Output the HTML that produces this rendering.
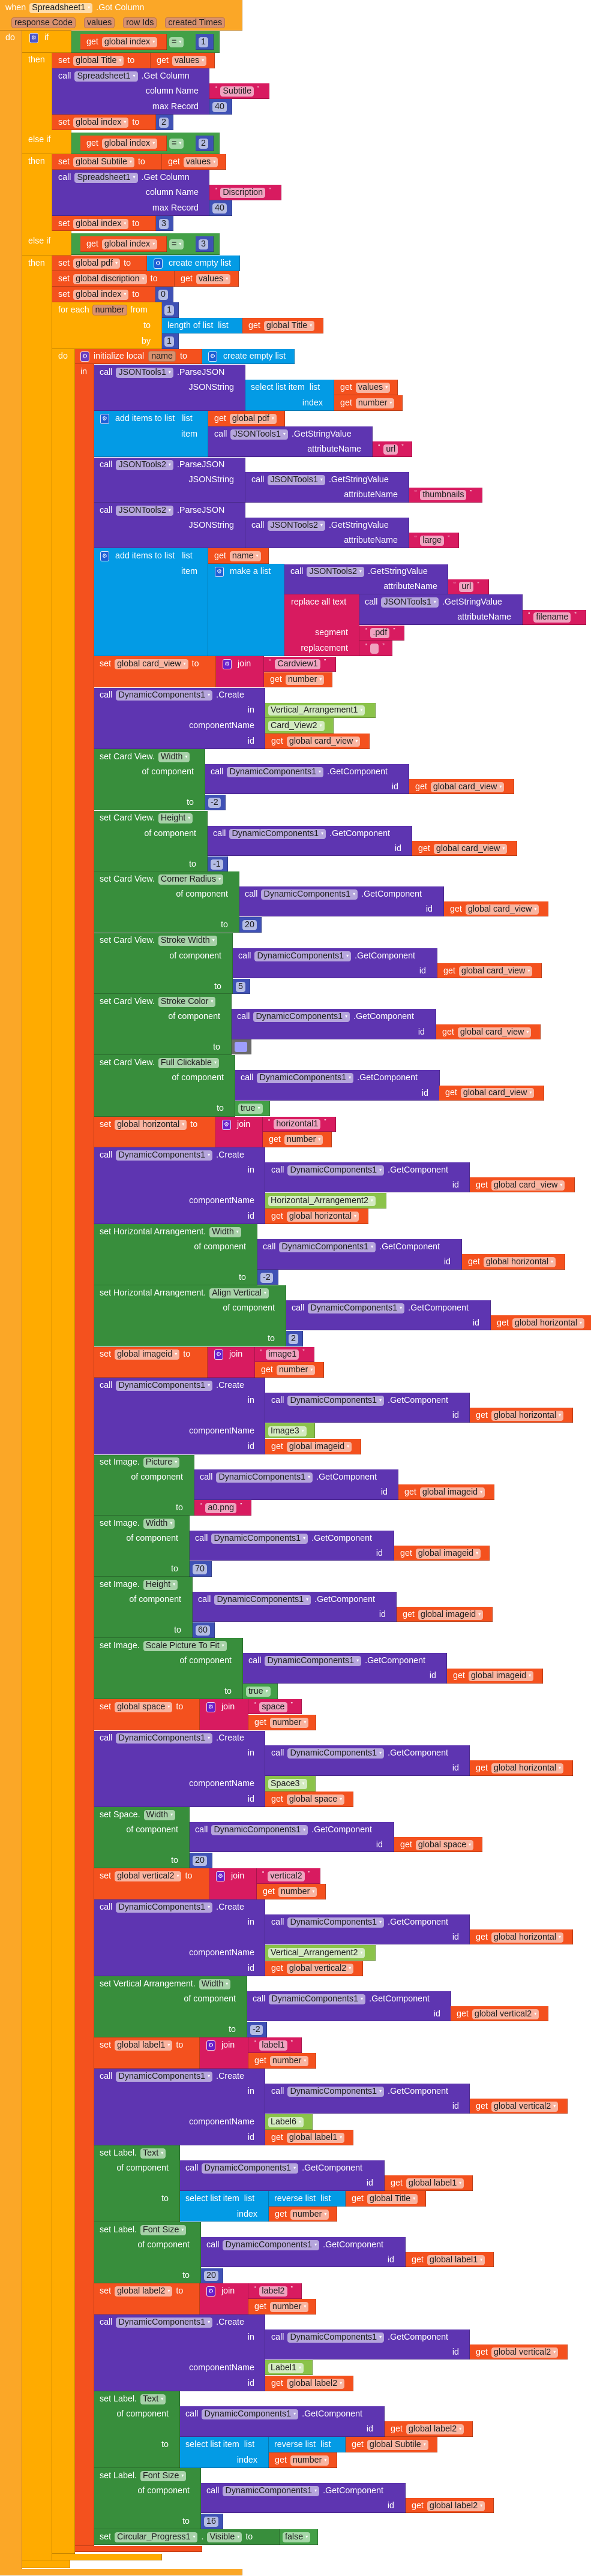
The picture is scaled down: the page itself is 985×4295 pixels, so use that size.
<!DOCTYPE html>
<html><head><meta charset="utf-8">
<style>
*{margin:0;padding:0;box-sizing:border-box}
body{width:985px;height:4295px;position:relative;overflow:hidden;background:#fff;font-family:"Liberation Sans",Arial,sans-serif}
.b{position:absolute;box-shadow:inset 0 -1px 0 rgba(0,0,0,.22),inset -1px 0 0 rgba(0,0,0,.22)}
.ev{background:#FBA727}.ct{background:#FFAB00}.vr{background:#F4511E}.pu{background:#5E35B1}.gr{background:#388E3C}.lg{background:#43A047}.nu{background:#3F51B5}.tx{background:#D81B60}.li{background:#039BE5}.cp{background:#8BC34A}.co{background:#6B6B6B}
.r{position:absolute;height:26px;display:flex;align-items:center;gap:5px;white-space:nowrap;color:#fff;font-size:14.3px;line-height:17px}
.e{justify-content:flex-end;left:0}
.f{display:inline-block;height:17px;line-height:17px;padding:0 4px;border-radius:4px;color:#1e1e1e;margin:0 1px}
.f i{font-style:normal;font-size:8px;color:#fff;margin-left:4px;position:relative;top:-2px;font-family:"DejaVu Sans",sans-serif}
.fv{background:#F9B4A0}.fp{background:#B5A5DC}.fg{background:#A7D1A8}.fn{background:#B4BCE4}.ft{background:#F0A3C0}.fc{background:#D3EAC0}.fl{background:#A6D8A8}.fe{background:#FFDCA9}
.pa{display:inline-block;height:18px;line-height:16px;padding:0 4px;border-radius:4px;color:#1e1e1e;background:#D9916D;border:1px solid #BE7654}
.q{font-size:10px;position:relative;top:-4px}
.g{display:inline-block;width:15px;height:17px;border-radius:3px;border:1px solid rgba(255,255,255,.85);color:#fff;font-size:10px;line-height:15px;text-align:center;font-family:"DejaVu Sans",sans-serif}
.gl{background:#1D5FD6}.gt{background:#6A1FC9}.gi{background:#4B56C8}.gp{background:#6B3FC2}
</style></head><body>

<!-- EVENT -->
<div class="b ev" style="left:0;top:0;width:404px;height:51px"></div>
<div class="b ev" style="left:0;top:51px;width:37px;height:4233px"></div>
<div class="b ev" style="left:0;top:4283px;width:404px;height:11px"></div>
<div class="r" style="left:9px;top:0">when <span class="f fe">Spreadsheet1<i>▾</i></span> .Got Column</div>
<div class="r" style="left:19px;top:25px;gap:14px"><span class="pa">response Code</span><span class="pa">values</span><span class="pa">row Ids</span><span class="pa">created Times</span></div>
<div class="r" style="left:9px;top:50px">do</div>

<!-- IF -->
<div class="b ct" style="left:37px;top:51px;width:50px;height:4218px"></div>
<div class="b ct" style="left:37px;top:51px;width:82px;height:37px"></div>
<div class="b ct" style="left:37px;top:217px;width:82px;height:40px"></div>
<div class="b ct" style="left:37px;top:385px;width:82px;height:41px"></div>
<div class="b ct" style="left:37px;top:4269px;width:80px;height:13px"></div>
<div class="r" style="left:49px;top:50px;gap:10px"><span class="g gi">⚙</span> if</div>
<div class="r" style="left:47px;top:87px">then</div>
<div class="r" style="left:47px;top:220px">else if</div>
<div class="r" style="left:47px;top:256px">then</div>
<div class="r" style="left:47px;top:389px">else if</div>
<div class="r" style="left:47px;top:426px">then</div>

<!-- compare 1 -->
<div class="b lg" style="left:119px;top:52px;width:247px;height:36px"></div>
<div class="b vr" style="left:134px;top:57px;width:144px;height:26px"></div>
<div class="r" style="left:144px;top:57px">get <span class="f fv">global index<i>▾</i></span></div>
<div class="r" style="left:281px;top:57px"><span class="f fl">=<i>▾</i></span></div>
<div class="b nu" style="left:326px;top:57px;width:30px;height:26px"></div>
<div class="r" style="left:330px;top:57px"><span class="f fn">1</span></div>
<!-- compare 2 -->
<div class="b lg" style="left:119px;top:221px;width:247px;height:36px"></div>
<div class="b vr" style="left:134px;top:226px;width:144px;height:26px"></div>
<div class="r" style="left:144px;top:226px">get <span class="f fv">global index<i>▾</i></span></div>
<div class="r" style="left:281px;top:226px"><span class="f fl">=<i>▾</i></span></div>
<div class="b nu" style="left:326px;top:226px;width:30px;height:26px"></div>
<div class="r" style="left:330px;top:226px"><span class="f fn">2</span></div>
<!-- compare 3 -->
<div class="b lg" style="left:119px;top:389px;width:247px;height:36px"></div>
<div class="b vr" style="left:134px;top:394px;width:144px;height:26px"></div>
<div class="r" style="left:144px;top:394px">get <span class="f fv">global index<i>▾</i></span></div>
<div class="r" style="left:281px;top:394px"><span class="f fl">=<i>▾</i></span></div>
<div class="b nu" style="left:326px;top:394px;width:30px;height:26px"></div>
<div class="r" style="left:330px;top:394px"><span class="f fn">3</span></div>

<!-- then 1 -->
<div class="b vr" style="left:87px;top:88px;width:164px;height:26px"></div>
<div class="r" style="left:97px;top:88px">set <span class="f fv">global Title<i>▾</i></span> to</div>
<div class="b vr" style="left:251px;top:88px;width:107px;height:26px"></div>
<div class="r" style="left:261px;top:88px">get <span class="f fv">values<i>▾</i></span></div>
<div class="b pu" style="left:87px;top:114px;width:262px;height:77px"></div>
<div class="r" style="left:97px;top:114px">call <span class="f fp">Spreadsheet1<i>▾</i></span> .Get Column</div>
<div class="r e" style="width:331px;top:139px">column Name</div>
<div class="r e" style="width:331px;top:165px">max Record</div>
<div class="b tx" style="left:349px;top:139px;width:100px;height:26px"></div>
<div class="r" style="left:358px;top:139px"><span class="q">“</span><span class="f ft">Subtitle</span><span class="q">”</span></div>
<div class="b nu" style="left:349px;top:165px;width:38px;height:26px"></div>
<div class="r" style="left:353px;top:165px"><span class="f fn">40</span></div>
<div class="b vr" style="left:87px;top:191px;width:173px;height:26px"></div>
<div class="r" style="left:97px;top:191px">set <span class="f fv">global index<i>▾</i></span> to</div>
<div class="b nu" style="left:260px;top:191px;width:29px;height:26px"></div>
<div class="r" style="left:264px;top:191px"><span class="f fn">2</span></div>

<!-- then 2 -->
<div class="b vr" style="left:87px;top:257px;width:183px;height:26px"></div>
<div class="r" style="left:97px;top:257px">set <span class="f fv">global Subtile<i>▾</i></span> to</div>
<div class="b vr" style="left:270px;top:257px;width:107px;height:26px"></div>
<div class="r" style="left:280px;top:257px">get <span class="f fv">values<i>▾</i></span></div>
<div class="b pu" style="left:87px;top:283px;width:262px;height:77px"></div>
<div class="r" style="left:97px;top:283px">call <span class="f fp">Spreadsheet1<i>▾</i></span> .Get Column</div>
<div class="r e" style="width:331px;top:308px">column Name</div>
<div class="r e" style="width:331px;top:334px">max Record</div>
<div class="b tx" style="left:349px;top:308px;width:120px;height:26px"></div>
<div class="r" style="left:358px;top:308px"><span class="q">“</span><span class="f ft">Discription</span><span class="q">”</span></div>
<div class="b nu" style="left:349px;top:334px;width:38px;height:26px"></div>
<div class="r" style="left:353px;top:334px"><span class="f fn">40</span></div>
<div class="b vr" style="left:87px;top:360px;width:173px;height:25px"></div>
<div class="r" style="left:97px;top:360px">set <span class="f fv">global index<i>▾</i></span> to</div>
<div class="b nu" style="left:260px;top:360px;width:29px;height:25px"></div>
<div class="r" style="left:264px;top:360px"><span class="f fn">3</span></div>

<!-- then 3 -->
<div class="b vr" style="left:87px;top:426px;width:158px;height:26px"></div>
<div class="r" style="left:97px;top:426px">set <span class="f fv">global pdf<i>▾</i></span> to</div>
<div class="b li" style="left:245px;top:426px;width:155px;height:26px"></div>
<div class="r" style="left:256px;top:426px;gap:10px"><span class="g gl">⚙</span>create empty list</div>
<div class="b vr" style="left:87px;top:452px;width:204px;height:26px"></div>
<div class="r" style="left:97px;top:452px">set <span class="f fv">global discription<i>▾</i></span> to</div>
<div class="b vr" style="left:291px;top:452px;width:107px;height:26px"></div>
<div class="r" style="left:301px;top:452px">get <span class="f fv">values<i>▾</i></span></div>
<div class="b vr" style="left:87px;top:478px;width:172px;height:26px"></div>
<div class="r" style="left:97px;top:478px">set <span class="f fv">global index<i>▾</i></span> to</div>
<div class="b nu" style="left:259px;top:478px;width:30px;height:26px"></div>
<div class="r" style="left:263px;top:478px"><span class="f fn">0</span></div>

<!-- FOR EACH -->
<div class="b ct" style="left:87px;top:504px;width:183px;height:78px"></div>
<div class="b ct" style="left:87px;top:582px;width:38px;height:3676px"></div>
<div class="b ct" style="left:87px;top:4258px;width:183px;height:11px"></div>
<div class="r" style="left:97px;top:504px">for each <span class="pa">number</span> from</div>
<div class="r e" style="width:251px;top:530px">to</div>
<div class="r e" style="width:251px;top:556px">by</div>
<div class="r" style="left:97px;top:581px">do</div>
<div class="b nu" style="left:270px;top:504px;width:28px;height:26px"></div>
<div class="r" style="left:273px;top:504px"><span class="f fn">1</span></div>
<div class="b li" style="left:270px;top:530px;width:134px;height:26px"></div>
<div class="r" style="left:279px;top:530px">length of list&nbsp;&nbsp;list</div>
<div class="b vr" style="left:404px;top:530px;width:135px;height:26px"></div>
<div class="r" style="left:414px;top:530px">get <span class="f fv">global Title<i>▾</i></span></div>
<div class="b nu" style="left:270px;top:556px;width:28px;height:26px"></div>
<div class="r" style="left:273px;top:556px"><span class="f fn">1</span></div>

<!-- INIT LOCAL -->
<div class="b vr" style="left:125px;top:582px;width:212px;height:25px"></div>
<div class="b vr" style="left:125px;top:607px;width:32px;height:3638px"></div>
<div class="b vr" style="left:125px;top:4245px;width:212px;height:10px"></div>
<div class="r" style="left:134px;top:581px;gap:7px"><span class="g gp">⚙</span>initialize local <span class="pa">name</span> to</div>
<div class="b li" style="left:337px;top:582px;width:154px;height:25px"></div>
<div class="r" style="left:347px;top:581px;gap:10px"><span class="g gl">⚙</span>create empty list</div>
<div class="r" style="left:134px;top:607px">in</div>

<!-- ParseJSON 1 -->
<div class="b pu" style="left:157px;top:608px;width:252px;height:77px"></div>
<div class="r" style="left:166px;top:608px">call <span class="f fp">JSONTools1<i>▾</i></span> .ParseJSON</div>
<div class="r e" style="width:390px;top:633px">JSONString</div>
<div class="b li" style="left:409px;top:633px;width:148px;height:52px"></div>
<div class="r" style="left:418px;top:633px">select list item&nbsp;&nbsp;list</div>
<div class="r e" style="width:538px;top:659px">index</div>
<div class="b vr" style="left:557px;top:633px;width:106px;height:26px"></div>
<div class="r" style="left:567px;top:633px">get <span class="f fv">values<i>▾</i></span></div>
<div class="b vr" style="left:557px;top:659px;width:114px;height:26px"></div>
<div class="r" style="left:567px;top:659px">get <span class="f fv">number<i>▾</i></span></div>

<!-- add items 1 -->
<div class="b li" style="left:157px;top:685px;width:190px;height:77px"></div>
<div class="r" style="left:167px;top:685px;gap:10px"><span class="g gl">⚙</span>add items to list&nbsp;&nbsp;&nbsp;list</div>
<div class="r e" style="width:329px;top:711px">item</div>
<div class="b vr" style="left:347px;top:685px;width:128px;height:26px"></div>
<div class="r" style="left:357px;top:685px">get <span class="f fv">global pdf<i>▾</i></span></div>
<div class="b pu" style="left:347px;top:711px;width:274px;height:51px"></div>
<div class="r" style="left:357px;top:711px">call <span class="f fp">JSONTools1<i>▾</i></span> .GetStringValue</div>
<div class="r e" style="width:602px;top:736px">attributeName</div>
<div class="b tx" style="left:621px;top:736px;width:66px;height:26px"></div>
<div class="r" style="left:630px;top:736px"><span class="q">“</span><span class="f ft">url</span><span class="q">”</span></div>

<!-- ParseJSON 2 -->
<div class="b pu" style="left:157px;top:763px;width:252px;height:75px"></div>
<div class="r" style="left:166px;top:762px">call <span class="f fp">JSONTools2<i>▾</i></span> .ParseJSON</div>
<div class="r e" style="width:390px;top:787px">JSONString</div>
<div class="b pu" style="left:409px;top:787px;width:273px;height:51px"></div>
<div class="r" style="left:419px;top:787px">call <span class="f fp">JSONTools1<i>▾</i></span> .GetStringValue</div>
<div class="r e" style="width:663px;top:812px">attributeName</div>
<div class="b tx" style="left:682px;top:813px;width:122px;height:25px"></div>
<div class="r" style="left:691px;top:812px"><span class="q">“</span><span class="f ft">thumbnails</span><span class="q">”</span></div>

<!-- ParseJSON 3 -->
<div class="b pu" style="left:157px;top:838px;width:252px;height:76px"></div>
<div class="r" style="left:166px;top:838px">call <span class="f fp">JSONTools2<i>▾</i></span> .ParseJSON</div>
<div class="r e" style="width:390px;top:863px">JSONString</div>
<div class="b pu" style="left:409px;top:863px;width:273px;height:51px"></div>
<div class="r" style="left:419px;top:863px">call <span class="f fp">JSONTools2<i>▾</i></span> .GetStringValue</div>
<div class="r e" style="width:663px;top:888px">attributeName</div>
<div class="b tx" style="left:682px;top:888px;width:83px;height:26px"></div>
<div class="r" style="left:691px;top:888px"><span class="q">“</span><span class="f ft">large</span><span class="q">”</span></div>

<!-- add items 2 -->
<div class="b li" style="left:157px;top:914px;width:190px;height:180px"></div>
<div class="r" style="left:167px;top:914px;gap:10px"><span class="g gl">⚙</span>add items to list&nbsp;&nbsp;&nbsp;list</div>
<div class="r e" style="width:329px;top:940px">item</div>
<div class="b vr" style="left:347px;top:914px;width:101px;height:26px"></div>
<div class="r" style="left:357px;top:914px">get <span class="f fv">name<i>▾</i></span></div>
<div class="b li" style="left:347px;top:940px;width:127px;height:154px"></div>
<div class="r" style="left:358px;top:940px;gap:10px"><span class="g gl">⚙</span>make a list</div>
<div class="b pu" style="left:474px;top:941px;width:273px;height:50px"></div>
<div class="r" style="left:484px;top:940px">call <span class="f fp">JSONTools2<i>▾</i></span> .GetStringValue</div>
<div class="r e" style="width:729px;top:965px">attributeName</div>
<div class="b tx" style="left:747px;top:966px;width:68px;height:25px"></div>
<div class="r" style="left:756px;top:965px"><span class="q">“</span><span class="f ft">url</span><span class="q">”</span></div>
<div class="b tx" style="left:474px;top:991px;width:125px;height:103px"></div>
<div class="r" style="left:485px;top:991px">replace all text</div>
<div class="r e" style="width:580px;top:1042px">segment</div>
<div class="r e" style="width:580px;top:1068px">replacement</div>
<div class="b pu" style="left:599px;top:991px;width:272px;height:51px"></div>
<div class="r" style="left:608px;top:991px">call <span class="f fp">JSONTools1<i>▾</i></span> .GetStringValue</div>
<div class="r e" style="width:852px;top:1016px">attributeName</div>
<div class="b tx" style="left:871px;top:1017px;width:106px;height:25px"></div>
<div class="r" style="left:880px;top:1016px"><span class="q">“</span><span class="f ft">filename</span><span class="q">”</span></div>
<div class="b tx" style="left:599px;top:1043px;width:75px;height:25px"></div>
<div class="r" style="left:608px;top:1042px"><span class="q">“</span><span class="f ft">.pdf</span><span class="q">”</span></div>
<div class="b tx" style="left:599px;top:1068px;width:55px;height:26px"></div>
<div class="r" style="left:608px;top:1068px"><span class="q">“</span><span class="f ft" style="width:14px"></span><span class="q">”</span></div>

<!-- J1 card_view -->
<div class="b vr" style="left:157px;top:1094px;width:203px;height:52px"></div>
<div class="r" style="left:166px;top:1094px">set <span class="f fv">global card_view<i>▾</i></span> to</div>
<div class="b tx" style="left:360px;top:1094px;width:80px;height:52px"></div>
<div class="r" style="left:371px;top:1094px;gap:10px"><span class="g gt">⚙</span>join</div>
<div class="b tx" style="left:440px;top:1095px;width:120px;height:25px"></div>
<div class="r" style="left:449px;top:1094px"><span class="q">“</span><span class="f ft">Cardview1</span><span class="q">”</span></div>
<div class="b vr" style="left:440px;top:1121px;width:114px;height:25px"></div>
<div class="r" style="left:450px;top:1120px">get <span class="f fv">number<i>▾</i></span></div>

<!-- Create 0 -->
<div class="b pu" style="left:157px;top:1147px;width:285px;height:102px"></div>
<div class="r" style="left:166px;top:1146px">call <span class="f fp">DynamicComponents1<i>▾</i></span> .Create</div>
<div class="r e" style="width:424px;top:1171px">in</div>
<div class="r e" style="width:424px;top:1197px">componentName</div>
<div class="r e" style="width:424px;top:1223px">id</div>
<div class="b cp" style="left:442px;top:1172px;width:184px;height:25px"></div>
<div class="r" style="left:446px;top:1171px"><span class="f fc">Vertical_Arrangement1<i>▾</i></span></div>
<div class="b cp" style="left:442px;top:1197px;width:114px;height:26px"></div>
<div class="r" style="left:446px;top:1197px"><span class="f fc">Card_View2<i>▾</i></span></div>
<div class="b vr" style="left:442px;top:1223px;width:174px;height:26px"></div>
<div class="r" style="left:452px;top:1223px">get <span class="f fv">global card_view<i>▾</i></span></div>

<!-- Setter a -->
<div class="b gr" style="left:157px;top:1249px;width:185px;height:102px"></div>
<div class="r" style="left:166px;top:1249px">set Card View. <span class="f fg">Width<i>▾</i></span></div>
<div class="r e" style="width:323px;top:1274px">of component</div>
<div class="r e" style="width:323px;top:1325px">to</div>
<div class="b pu" style="left:342px;top:1274px;width:340px;height:50px"></div>
<div class="r" style="left:351px;top:1274px">call <span class="f fp">DynamicComponents1<i>▾</i></span> .GetComponent</div>
<div class="r e" style="width:664px;top:1299px">id</div>
<div class="b vr" style="left:682px;top:1299px;width:175px;height:25px"></div>
<div class="r" style="left:692px;top:1299px">get <span class="f fv">global card_view<i>▾</i></span></div>
<div class="b nu" style="left:342px;top:1325px;width:34px;height:26px"></div>
<div class="r" style="left:346px;top:1325px"><span class="f fn">-2</span></div>

<!-- Setter b -->
<div class="b gr" style="left:157px;top:1352px;width:189px;height:101px"></div>
<div class="r" style="left:166px;top:1351px">set Card View. <span class="f fg">Height<i>▾</i></span></div>
<div class="r e" style="width:327px;top:1377px">of component</div>
<div class="r e" style="width:327px;top:1428px">to</div>
<div class="b pu" style="left:346px;top:1377px;width:341px;height:50px"></div>
<div class="r" style="left:355px;top:1377px">call <span class="f fp">DynamicComponents1<i>▾</i></span> .GetComponent</div>
<div class="r e" style="width:669px;top:1402px">id</div>
<div class="b vr" style="left:687px;top:1402px;width:175px;height:25px"></div>
<div class="r" style="left:697px;top:1402px">get <span class="f fv">global card_view<i>▾</i></span></div>
<div class="b nu" style="left:346px;top:1428px;width:34px;height:25px"></div>
<div class="r" style="left:350px;top:1428px"><span class="f fn">-1</span></div>

<!-- Setter c -->
<div class="b gr" style="left:157px;top:1453px;width:242px;height:102px"></div>
<div class="r" style="left:166px;top:1453px">set Card View. <span class="f fg">Corner Radius<i>▾</i></span></div>
<div class="r e" style="width:380px;top:1478px">of component</div>
<div class="r e" style="width:380px;top:1529px">to</div>
<div class="b pu" style="left:399px;top:1478px;width:341px;height:50px"></div>
<div class="r" style="left:408px;top:1478px">call <span class="f fp">DynamicComponents1<i>▾</i></span> .GetComponent</div>
<div class="r e" style="width:721px;top:1503px">id</div>
<div class="b vr" style="left:740px;top:1503px;width:174px;height:25px"></div>
<div class="r" style="left:750px;top:1503px">get <span class="f fv">global card_view<i>▾</i></span></div>
<div class="b nu" style="left:399px;top:1529px;width:37px;height:26px"></div>
<div class="r" style="left:403px;top:1529px"><span class="f fn">20</span></div>

<!-- Setter d -->
<div class="b gr" style="left:157px;top:1556px;width:231px;height:101px"></div>
<div class="r" style="left:166px;top:1555px">set Card View. <span class="f fg">Stroke Width<i>▾</i></span></div>
<div class="r e" style="width:369px;top:1581px">of component</div>
<div class="r e" style="width:369px;top:1632px">to</div>
<div class="b pu" style="left:388px;top:1581px;width:341px;height:50px"></div>
<div class="r" style="left:397px;top:1581px">call <span class="f fp">DynamicComponents1<i>▾</i></span> .GetComponent</div>
<div class="r e" style="width:710px;top:1606px">id</div>
<div class="b vr" style="left:729px;top:1606px;width:174px;height:25px"></div>
<div class="r" style="left:739px;top:1606px">get <span class="f fv">global card_view<i>▾</i></span></div>
<div class="b nu" style="left:388px;top:1632px;width:29px;height:25px"></div>
<div class="r" style="left:392px;top:1632px"><span class="f fn">5</span></div>

<!-- Setter e -->
<div class="b gr" style="left:157px;top:1657px;width:229px;height:102px"></div>
<div class="r" style="left:166px;top:1657px">set Card View. <span class="f fg">Stroke Color<i>▾</i></span></div>
<div class="r e" style="width:367px;top:1682px">of component</div>
<div class="r e" style="width:367px;top:1733px">to</div>
<div class="b pu" style="left:386px;top:1682px;width:341px;height:51px"></div>
<div class="r" style="left:395px;top:1682px">call <span class="f fp">DynamicComponents1<i>▾</i></span> .GetComponent</div>
<div class="r e" style="width:708px;top:1708px">id</div>
<div class="b vr" style="left:727px;top:1708px;width:174px;height:25px"></div>
<div class="r" style="left:737px;top:1708px">get <span class="f fv">global card_view<i>▾</i></span></div>
<div class="b co" style="left:386px;top:1733px;width:33px;height:25px"></div>
<div style="position:absolute;left:391px;top:1737px;width:21px;height:17px;background:#9E9EFF;border-radius:3px"></div>

<!-- Setter f -->
<div class="b gr" style="left:157px;top:1759px;width:235px;height:103px"></div>
<div class="r" style="left:166px;top:1759px">set Card View. <span class="f fg">Full Clickable<i>▾</i></span></div>
<div class="r e" style="width:373px;top:1784px">of component</div>
<div class="r e" style="width:373px;top:1835px">to</div>
<div class="b pu" style="left:392px;top:1784px;width:341px;height:51px"></div>
<div class="r" style="left:401px;top:1784px">call <span class="f fp">DynamicComponents1<i>▾</i></span> .GetComponent</div>
<div class="r e" style="width:714px;top:1810px">id</div>
<div class="b vr" style="left:732px;top:1810px;width:175px;height:25px"></div>
<div class="r" style="left:742px;top:1809px">get <span class="f fv">global card_view<i>▾</i></span></div>
<div class="b lg" style="left:392px;top:1836px;width:58px;height:25px"></div>
<div class="r" style="left:396px;top:1835px"><span class="f fl">true<i>▾</i></span></div>

<!-- J2 horizontal -->
<div class="b vr" style="left:157px;top:1862px;width:202px;height:51px"></div>
<div class="r" style="left:166px;top:1862px">set <span class="f fv">global horizontal<i>▾</i></span> to</div>
<div class="b tx" style="left:359px;top:1862px;width:79px;height:51px"></div>
<div class="r" style="left:370px;top:1862px;gap:10px"><span class="g gt">⚙</span>join</div>
<div class="b tx" style="left:438px;top:1862px;width:122px;height:25px"></div>
<div class="r" style="left:447px;top:1861px"><span class="q">“</span><span class="f ft">horizontal1</span><span class="q">”</span></div>
<div class="b vr" style="left:438px;top:1887px;width:115px;height:26px"></div>
<div class="r" style="left:448px;top:1887px">get <span class="f fv">number<i>▾</i></span></div>

<!-- C1 -->
<div class="b pu" style="left:157px;top:1913px;width:285px;height:128px"></div>
<div class="r" style="left:166px;top:1913px">call <span class="f fp">DynamicComponents1<i>▾</i></span> .Create</div>
<div class="r e" style="width:424px;top:1938px">in</div>
<div class="r e" style="width:424px;top:1989px">componentName</div>
<div class="r e" style="width:424px;top:2015px">id</div>
<div class="b pu" style="left:442px;top:1938px;width:341px;height:50px"></div>
<div class="r" style="left:452px;top:1938px">call <span class="f fp">DynamicComponents1<i>▾</i></span> .GetComponent</div>
<div class="r e" style="width:765px;top:1963px">id</div>
<div class="b vr" style="left:783px;top:1963px;width:175px;height:25px"></div>
<div class="r" style="left:793px;top:1963px">get <span class="f fv">global card_view<i>▾</i></span></div>
<div class="b cp" style="left:442px;top:1989px;width:202px;height:26px"></div>
<div class="r" style="left:446px;top:1989px"><span class="f fc">Horizontal_Arrangement2<i>▾</i></span></div>
<div class="b vr" style="left:442px;top:2015px;width:172px;height:26px"></div>
<div class="r" style="left:452px;top:2015px">get <span class="f fv">global horizontal<i>▾</i></span></div>

<!-- Setter g -->
<div class="b gr" style="left:157px;top:2041px;width:272px;height:102px"></div>
<div class="r" style="left:166px;top:2041px">set Horizontal Arrangement. <span class="f fg">Width<i>▾</i></span></div>
<div class="r e" style="width:410px;top:2066px">of component</div>
<div class="r e" style="width:410px;top:2117px">to</div>
<div class="b pu" style="left:429px;top:2066px;width:341px;height:51px"></div>
<div class="r" style="left:438px;top:2066px">call <span class="f fp">DynamicComponents1<i>▾</i></span> .GetComponent</div>
<div class="r e" style="width:751px;top:2091px">id</div>
<div class="b vr" style="left:770px;top:2091px;width:172px;height:26px"></div>
<div class="r" style="left:780px;top:2091px">get <span class="f fv">global horizontal<i>▾</i></span></div>
<div class="b nu" style="left:429px;top:2117px;width:35px;height:25px"></div>
<div class="r" style="left:433px;top:2117px"><span class="f fn">-2</span></div>

<!-- Setter h -->
<div class="b gr" style="left:157px;top:2143px;width:320px;height:102px"></div>
<div class="r" style="left:166px;top:2143px">set Horizontal Arrangement. <span class="f fg">Align Vertical<i>▾</i></span></div>
<div class="r e" style="width:458px;top:2168px">of component</div>
<div class="r e" style="width:458px;top:2219px">to</div>
<div class="b pu" style="left:477px;top:2168px;width:341px;height:50px"></div>
<div class="r" style="left:486px;top:2168px">call <span class="f fp">DynamicComponents1<i>▾</i></span> .GetComponent</div>
<div class="r e" style="width:799px;top:2193px">id</div>
<div class="b vr" style="left:818px;top:2193px;width:172px;height:25px"></div>
<div class="r" style="left:828px;top:2193px">get <span class="f fv">global horizontal<i>▾</i></span></div>
<div class="b nu" style="left:477px;top:2219px;width:28px;height:26px"></div>
<div class="r" style="left:480px;top:2219px"><span class="f fn">2</span></div>

<!-- J3 imageid -->
<div class="b vr" style="left:157px;top:2246px;width:189px;height:51px"></div>
<div class="r" style="left:166px;top:2245px">set <span class="f fv">global imageid<i>▾</i></span> to</div>
<div class="b tx" style="left:346px;top:2246px;width:79px;height:51px"></div>
<div class="r" style="left:357px;top:2245px;gap:10px"><span class="g gt">⚙</span>join</div>
<div class="b tx" style="left:425px;top:2246px;width:99px;height:25px"></div>
<div class="r" style="left:434px;top:2245px"><span class="q">“</span><span class="f ft">image1</span><span class="q">”</span></div>
<div class="b vr" style="left:425px;top:2271px;width:115px;height:26px"></div>
<div class="r" style="left:435px;top:2271px">get <span class="f fv">number<i>▾</i></span></div>

<!-- C2 -->
<div class="b pu" style="left:157px;top:2297px;width:285px;height:128px"></div>
<div class="r" style="left:166px;top:2297px">call <span class="f fp">DynamicComponents1<i>▾</i></span> .Create</div>
<div class="r e" style="width:424px;top:2322px">in</div>
<div class="r e" style="width:424px;top:2373px">componentName</div>
<div class="r e" style="width:424px;top:2399px">id</div>
<div class="b pu" style="left:442px;top:2322px;width:341px;height:50px"></div>
<div class="r" style="left:452px;top:2322px">call <span class="f fp">DynamicComponents1<i>▾</i></span> .GetComponent</div>
<div class="r e" style="width:765px;top:2347px">id</div>
<div class="b vr" style="left:783px;top:2347px;width:172px;height:25px"></div>
<div class="r" style="left:793px;top:2347px">get <span class="f fv">global horizontal<i>▾</i></span></div>
<div class="b cp" style="left:442px;top:2373px;width:83px;height:25px"></div>
<div class="r" style="left:446px;top:2373px"><span class="f fc">Image3<i>▾</i></span></div>
<div class="b vr" style="left:442px;top:2399px;width:160px;height:26px"></div>
<div class="r" style="left:452px;top:2399px">get <span class="f fv">global imageid<i>▾</i></span></div>

<!-- Setter i -->
<div class="b gr" style="left:157px;top:2426px;width:167px;height:101px"></div>
<div class="r" style="left:166px;top:2425px">set Image. <span class="f fg">Picture<i>▾</i></span></div>
<div class="r e" style="width:305px;top:2450px">of component</div>
<div class="r e" style="width:305px;top:2501px">to</div>
<div class="b pu" style="left:324px;top:2450px;width:340px;height:51px"></div>
<div class="r" style="left:333px;top:2450px">call <span class="f fp">DynamicComponents1<i>▾</i></span> .GetComponent</div>
<div class="r e" style="width:646px;top:2475px">id</div>
<div class="b vr" style="left:664px;top:2475px;width:160px;height:26px"></div>
<div class="r" style="left:674px;top:2475px">get <span class="f fv">global imageid<i>▾</i></span></div>
<div class="b tx" style="left:324px;top:2501px;width:95px;height:26px"></div>
<div class="r" style="left:333px;top:2501px"><span class="q">“</span><span class="f ft">a0.png</span><span class="q">”</span></div>

<!-- Setter j -->
<div class="b gr" style="left:157px;top:2527px;width:159px;height:102px"></div>
<div class="r" style="left:166px;top:2527px">set Image. <span class="f fg">Width<i>▾</i></span></div>
<div class="r e" style="width:297px;top:2552px">of component</div>
<div class="r e" style="width:297px;top:2603px">to</div>
<div class="b pu" style="left:316px;top:2552px;width:341px;height:50px"></div>
<div class="r" style="left:325px;top:2552px">call <span class="f fp">DynamicComponents1<i>▾</i></span> .GetComponent</div>
<div class="r e" style="width:638px;top:2577px">id</div>
<div class="b vr" style="left:657px;top:2577px;width:159px;height:25px"></div>
<div class="r" style="left:667px;top:2577px">get <span class="f fv">global imageid<i>▾</i></span></div>
<div class="b nu" style="left:316px;top:2603px;width:37px;height:26px"></div>
<div class="r" style="left:320px;top:2603px"><span class="f fn">70</span></div>

<!-- Setter k -->
<div class="b gr" style="left:157px;top:2629px;width:164px;height:102px"></div>
<div class="r" style="left:166px;top:2629px">set Image. <span class="f fg">Height<i>▾</i></span></div>
<div class="r e" style="width:302px;top:2654px">of component</div>
<div class="r e" style="width:302px;top:2705px">to</div>
<div class="b pu" style="left:321px;top:2654px;width:340px;height:50px"></div>
<div class="r" style="left:330px;top:2654px">call <span class="f fp">DynamicComponents1<i>▾</i></span> .GetComponent</div>
<div class="r e" style="width:643px;top:2679px">id</div>
<div class="b vr" style="left:661px;top:2679px;width:160px;height:25px"></div>
<div class="r" style="left:671px;top:2679px">get <span class="f fv">global imageid<i>▾</i></span></div>
<div class="b nu" style="left:321px;top:2705px;width:37px;height:26px"></div>
<div class="r" style="left:325px;top:2705px"><span class="f fn">60</span></div>

<!-- Setter l -->
<div class="b gr" style="left:157px;top:2731px;width:248px;height:102px"></div>
<div class="r" style="left:166px;top:2731px">set Image. <span class="f fg">Scale Picture To Fit<i>▾</i></span></div>
<div class="r e" style="width:386px;top:2756px">of component</div>
<div class="r e" style="width:386px;top:2807px">to</div>
<div class="b pu" style="left:405px;top:2756px;width:340px;height:51px"></div>
<div class="r" style="left:414px;top:2756px">call <span class="f fp">DynamicComponents1<i>▾</i></span> .GetComponent</div>
<div class="r e" style="width:727px;top:2781px">id</div>
<div class="b vr" style="left:745px;top:2782px;width:160px;height:25px"></div>
<div class="r" style="left:755px;top:2781px">get <span class="f fv">global imageid<i>▾</i></span></div>
<div class="b lg" style="left:405px;top:2807px;width:58px;height:26px"></div>
<div class="r" style="left:409px;top:2807px"><span class="f fl">true<i>▾</i></span></div>

<!-- J4 space -->
<div class="b vr" style="left:157px;top:2833px;width:176px;height:52px"></div>
<div class="r" style="left:166px;top:2833px">set <span class="f fv">global space<i>▾</i></span> to</div>
<div class="b tx" style="left:333px;top:2833px;width:81px;height:52px"></div>
<div class="r" style="left:344px;top:2833px;gap:10px"><span class="g gt">⚙</span>join</div>
<div class="b tx" style="left:414px;top:2833px;width:89px;height:25px"></div>
<div class="r" style="left:423px;top:2833px"><span class="q">“</span><span class="f ft">space</span><span class="q">”</span></div>
<div class="b vr" style="left:414px;top:2859px;width:113px;height:26px"></div>
<div class="r" style="left:424px;top:2859px">get <span class="f fv">number<i>▾</i></span></div>

<!-- C3 -->
<div class="b pu" style="left:157px;top:2886px;width:285px;height:127px"></div>
<div class="r" style="left:166px;top:2885px">call <span class="f fp">DynamicComponents1<i>▾</i></span> .Create</div>
<div class="r e" style="width:424px;top:2910px">in</div>
<div class="r e" style="width:424px;top:2961px">componentName</div>
<div class="r e" style="width:424px;top:2987px">id</div>
<div class="b pu" style="left:442px;top:2910px;width:341px;height:51px"></div>
<div class="r" style="left:452px;top:2910px">call <span class="f fp">DynamicComponents1<i>▾</i></span> .GetComponent</div>
<div class="r e" style="width:765px;top:2935px">id</div>
<div class="b vr" style="left:783px;top:2935px;width:172px;height:26px"></div>
<div class="r" style="left:793px;top:2935px">get <span class="f fv">global horizontal<i>▾</i></span></div>
<div class="b cp" style="left:442px;top:2961px;width:84px;height:26px"></div>
<div class="r" style="left:446px;top:2961px"><span class="f fc">Space3<i>▾</i></span></div>
<div class="b vr" style="left:442px;top:2987px;width:147px;height:26px"></div>
<div class="r" style="left:452px;top:2987px">get <span class="f fv">global space<i>▾</i></span></div>

<!-- Setter m -->
<div class="b gr" style="left:157px;top:3013px;width:159px;height:102px"></div>
<div class="r" style="left:166px;top:3013px">set Space. <span class="f fg">Width<i>▾</i></span></div>
<div class="r e" style="width:297px;top:3038px">of component</div>
<div class="r e" style="width:297px;top:3089px">to</div>
<div class="b pu" style="left:316px;top:3038px;width:341px;height:50px"></div>
<div class="r" style="left:325px;top:3038px">call <span class="f fp">DynamicComponents1<i>▾</i></span> .GetComponent</div>
<div class="r e" style="width:638px;top:3063px">id</div>
<div class="b vr" style="left:657px;top:3063px;width:147px;height:25px"></div>
<div class="r" style="left:667px;top:3063px">get <span class="f fv">global space<i>▾</i></span></div>
<div class="b nu" style="left:316px;top:3089px;width:38px;height:26px"></div>
<div class="r" style="left:320px;top:3089px"><span class="f fn">20</span></div>

<!-- J5 vertical2 -->
<div class="b vr" style="left:157px;top:3115px;width:192px;height:52px"></div>
<div class="r" style="left:166px;top:3115px">set <span class="f fv">global vertical2<i>▾</i></span> to</div>
<div class="b tx" style="left:349px;top:3115px;width:79px;height:52px"></div>
<div class="r" style="left:360px;top:3115px;gap:10px"><span class="g gt">⚙</span>join</div>
<div class="b tx" style="left:428px;top:3115px;width:106px;height:26px"></div>
<div class="r" style="left:437px;top:3115px"><span class="q">“</span><span class="f ft">vertical2</span><span class="q">”</span></div>
<div class="b vr" style="left:428px;top:3141px;width:115px;height:26px"></div>
<div class="r" style="left:438px;top:3141px">get <span class="f fv">number<i>▾</i></span></div>

<!-- C4 -->
<div class="b pu" style="left:157px;top:3167px;width:285px;height:128px"></div>
<div class="r" style="left:166px;top:3167px">call <span class="f fp">DynamicComponents1<i>▾</i></span> .Create</div>
<div class="r e" style="width:424px;top:3192px">in</div>
<div class="r e" style="width:424px;top:3243px">componentName</div>
<div class="r e" style="width:424px;top:3269px">id</div>
<div class="b pu" style="left:442px;top:3192px;width:341px;height:50px"></div>
<div class="r" style="left:452px;top:3192px">call <span class="f fp">DynamicComponents1<i>▾</i></span> .GetComponent</div>
<div class="r e" style="width:765px;top:3217px">id</div>
<div class="b vr" style="left:783px;top:3217px;width:172px;height:25px"></div>
<div class="r" style="left:793px;top:3217px">get <span class="f fv">global horizontal<i>▾</i></span></div>
<div class="b cp" style="left:442px;top:3243px;width:184px;height:26px"></div>
<div class="r" style="left:446px;top:3243px"><span class="f fc">Vertical_Arrangement2<i>▾</i></span></div>
<div class="b vr" style="left:442px;top:3270px;width:163px;height:25px"></div>
<div class="r" style="left:452px;top:3269px">get <span class="f fv">global vertical2<i>▾</i></span></div>

<!-- Setter n -->
<div class="b gr" style="left:157px;top:3295px;width:255px;height:102px"></div>
<div class="r" style="left:166px;top:3295px">set Vertical Arrangement. <span class="f fg">Width<i>▾</i></span></div>
<div class="r e" style="width:393px;top:3320px">of component</div>
<div class="r e" style="width:393px;top:3371px">to</div>
<div class="b pu" style="left:412px;top:3320px;width:340px;height:50px"></div>
<div class="r" style="left:421px;top:3320px">call <span class="f fp">DynamicComponents1<i>▾</i></span> .GetComponent</div>
<div class="r e" style="width:734px;top:3345px">id</div>
<div class="b vr" style="left:751px;top:3345px;width:163px;height:25px"></div>
<div class="r" style="left:761px;top:3345px">get <span class="f fv">global vertical2<i>▾</i></span></div>
<div class="b nu" style="left:412px;top:3371px;width:33px;height:26px"></div>
<div class="r" style="left:416px;top:3371px"><span class="f fn">-2</span></div>

<!-- J6 label1 -->
<div class="b vr" style="left:157px;top:3397px;width:176px;height:52px"></div>
<div class="r" style="left:166px;top:3397px">set <span class="f fv">global label1<i>▾</i></span> to</div>
<div class="b tx" style="left:333px;top:3397px;width:81px;height:52px"></div>
<div class="r" style="left:344px;top:3397px;gap:10px"><span class="g gt">⚙</span>join</div>
<div class="b tx" style="left:414px;top:3397px;width:89px;height:26px"></div>
<div class="r" style="left:423px;top:3397px"><span class="q">“</span><span class="f ft">label1</span><span class="q">”</span></div>
<div class="b vr" style="left:414px;top:3423px;width:113px;height:26px"></div>
<div class="r" style="left:424px;top:3423px">get <span class="f fv">number<i>▾</i></span></div>

<!-- C5 -->
<div class="b pu" style="left:157px;top:3449px;width:285px;height:128px"></div>
<div class="r" style="left:166px;top:3449px">call <span class="f fp">DynamicComponents1<i>▾</i></span> .Create</div>
<div class="r e" style="width:424px;top:3474px">in</div>
<div class="r e" style="width:424px;top:3525px">componentName</div>
<div class="r e" style="width:424px;top:3551px">id</div>
<div class="b pu" style="left:442px;top:3474px;width:341px;height:50px"></div>
<div class="r" style="left:452px;top:3474px">call <span class="f fp">DynamicComponents1<i>▾</i></span> .GetComponent</div>
<div class="r e" style="width:765px;top:3499px">id</div>
<div class="b vr" style="left:783px;top:3499px;width:163px;height:25px"></div>
<div class="r" style="left:793px;top:3499px">get <span class="f fv">global vertical2<i>▾</i></span></div>
<div class="b cp" style="left:442px;top:3525px;width:79px;height:26px"></div>
<div class="r" style="left:446px;top:3525px"><span class="f fc">Label6<i>▾</i></span></div>
<div class="b vr" style="left:442px;top:3551px;width:147px;height:26px"></div>
<div class="r" style="left:452px;top:3551px">get <span class="f fv">global label1<i>▾</i></span></div>

<!-- Setter o -->
<div class="b gr" style="left:157px;top:3577px;width:143px;height:128px"></div>
<div class="r" style="left:166px;top:3577px">set Label. <span class="f fg">Text<i>▾</i></span></div>
<div class="r e" style="width:281px;top:3602px">of component</div>
<div class="r e" style="width:281px;top:3653px">to</div>
<div class="b pu" style="left:300px;top:3602px;width:341px;height:51px"></div>
<div class="r" style="left:309px;top:3602px">call <span class="f fp">DynamicComponents1<i>▾</i></span> .GetComponent</div>
<div class="r e" style="width:622px;top:3627px">id</div>
<div class="b vr" style="left:641px;top:3627px;width:147px;height:26px"></div>
<div class="r" style="left:651px;top:3627px">get <span class="f fv">global label1<i>▾</i></span></div>
<div class="b li" style="left:300px;top:3653px;width:148px;height:51px"></div>
<div class="r" style="left:309px;top:3653px">select list item&nbsp;&nbsp;list</div>
<div class="r e" style="width:429px;top:3679px">index</div>
<div class="b li" style="left:448px;top:3653px;width:128px;height:26px"></div>
<div class="r" style="left:457px;top:3653px">reverse list&nbsp;&nbsp;list</div>
<div class="b vr" style="left:576px;top:3653px;width:134px;height:26px"></div>
<div class="r" style="left:586px;top:3653px">get <span class="f fv">global Title<i>▾</i></span></div>
<div class="b vr" style="left:448px;top:3679px;width:114px;height:25px"></div>
<div class="r" style="left:458px;top:3679px">get <span class="f fv">number<i>▾</i></span></div>

<!-- Setter p -->
<div class="b gr" style="left:157px;top:3705px;width:178px;height:102px"></div>
<div class="r" style="left:166px;top:3705px">set Label. <span class="f fg">Font Size<i>▾</i></span></div>
<div class="r e" style="width:316px;top:3730px">of component</div>
<div class="r e" style="width:316px;top:3781px">to</div>
<div class="b pu" style="left:335px;top:3730px;width:341px;height:50px"></div>
<div class="r" style="left:344px;top:3730px">call <span class="f fp">DynamicComponents1<i>▾</i></span> .GetComponent</div>
<div class="r e" style="width:657px;top:3755px">id</div>
<div class="b vr" style="left:676px;top:3755px;width:147px;height:25px"></div>
<div class="r" style="left:686px;top:3755px">get <span class="f fv">global label1<i>▾</i></span></div>
<div class="b nu" style="left:335px;top:3782px;width:37px;height:25px"></div>
<div class="r" style="left:339px;top:3781px"><span class="f fn">20</span></div>

<!-- J7 label2 -->
<div class="b vr" style="left:157px;top:3807px;width:176px;height:52px"></div>
<div class="r" style="left:166px;top:3807px">set <span class="f fv">global label2<i>▾</i></span> to</div>
<div class="b tx" style="left:333px;top:3807px;width:81px;height:52px"></div>
<div class="r" style="left:344px;top:3807px;gap:10px"><span class="g gt">⚙</span>join</div>
<div class="b tx" style="left:414px;top:3807px;width:89px;height:26px"></div>
<div class="r" style="left:423px;top:3807px"><span class="q">“</span><span class="f ft">label2</span><span class="q">”</span></div>
<div class="b vr" style="left:414px;top:3833px;width:113px;height:26px"></div>
<div class="r" style="left:424px;top:3833px">get <span class="f fv">number<i>▾</i></span></div>

<!-- C6 -->
<div class="b pu" style="left:157px;top:3859px;width:285px;height:128px"></div>
<div class="r" style="left:166px;top:3859px">call <span class="f fp">DynamicComponents1<i>▾</i></span> .Create</div>
<div class="r e" style="width:424px;top:3884px">in</div>
<div class="r e" style="width:424px;top:3935px">componentName</div>
<div class="r e" style="width:424px;top:3961px">id</div>
<div class="b pu" style="left:442px;top:3884px;width:341px;height:50px"></div>
<div class="r" style="left:452px;top:3884px">call <span class="f fp">DynamicComponents1<i>▾</i></span> .GetComponent</div>
<div class="r e" style="width:765px;top:3909px">id</div>
<div class="b vr" style="left:783px;top:3909px;width:163px;height:25px"></div>
<div class="r" style="left:793px;top:3909px">get <span class="f fv">global vertical2<i>▾</i></span></div>
<div class="b cp" style="left:442px;top:3935px;width:79px;height:25px"></div>
<div class="r" style="left:446px;top:3935px"><span class="f fc">Label1<i>▾</i></span></div>
<div class="b vr" style="left:442px;top:3961px;width:147px;height:26px"></div>
<div class="r" style="left:452px;top:3961px">get <span class="f fv">global label2<i>▾</i></span></div>

<!-- Setter q -->
<div class="b gr" style="left:157px;top:3987px;width:143px;height:128px"></div>
<div class="r" style="left:166px;top:3987px">set Label. <span class="f fg">Text<i>▾</i></span></div>
<div class="r e" style="width:281px;top:4012px">of component</div>
<div class="r e" style="width:281px;top:4063px">to</div>
<div class="b pu" style="left:300px;top:4012px;width:341px;height:51px"></div>
<div class="r" style="left:309px;top:4012px">call <span class="f fp">DynamicComponents1<i>▾</i></span> .GetComponent</div>
<div class="r e" style="width:622px;top:4037px">id</div>
<div class="b vr" style="left:641px;top:4037px;width:147px;height:26px"></div>
<div class="r" style="left:651px;top:4037px">get <span class="f fv">global label2<i>▾</i></span></div>
<div class="b li" style="left:300px;top:4063px;width:148px;height:52px"></div>
<div class="r" style="left:309px;top:4063px">select list item&nbsp;&nbsp;list</div>
<div class="r e" style="width:429px;top:4089px">index</div>
<div class="b li" style="left:448px;top:4063px;width:128px;height:26px"></div>
<div class="r" style="left:457px;top:4063px">reverse list&nbsp;&nbsp;list</div>
<div class="b vr" style="left:576px;top:4063px;width:153px;height:26px"></div>
<div class="r" style="left:586px;top:4063px">get <span class="f fv">global Subtile<i>▾</i></span></div>
<div class="b vr" style="left:448px;top:4089px;width:114px;height:26px"></div>
<div class="r" style="left:458px;top:4089px">get <span class="f fv">number<i>▾</i></span></div>

<!-- Setter r -->
<div class="b gr" style="left:157px;top:4115px;width:178px;height:102px"></div>
<div class="r" style="left:166px;top:4115px">set Label. <span class="f fg">Font Size<i>▾</i></span></div>
<div class="r e" style="width:316px;top:4140px">of component</div>
<div class="r e" style="width:316px;top:4191px">to</div>
<div class="b pu" style="left:335px;top:4140px;width:341px;height:50px"></div>
<div class="r" style="left:344px;top:4140px">call <span class="f fp">DynamicComponents1<i>▾</i></span> .GetComponent</div>
<div class="r e" style="width:657px;top:4165px">id</div>
<div class="b vr" style="left:676px;top:4165px;width:147px;height:25px"></div>
<div class="r" style="left:686px;top:4165px">get <span class="f fv">global label2<i>▾</i></span></div>
<div class="b nu" style="left:335px;top:4191px;width:37px;height:26px"></div>
<div class="r" style="left:339px;top:4191px"><span class="f fn">16</span></div>

<!-- Last -->
<div class="b gr" style="left:157px;top:4217px;width:309px;height:26px"></div>
<div class="r" style="left:166px;top:4217px">set <span class="f fg">Circular_Progress1<i>▾</i></span> . <span class="f fg">Visible<i>▾</i></span> to</div>
<div class="b lg" style="left:466px;top:4217px;width:64px;height:26px"></div>
<div class="r" style="left:470px;top:4217px"><span class="f fl">false<i>▾</i></span></div>

</body></html>
